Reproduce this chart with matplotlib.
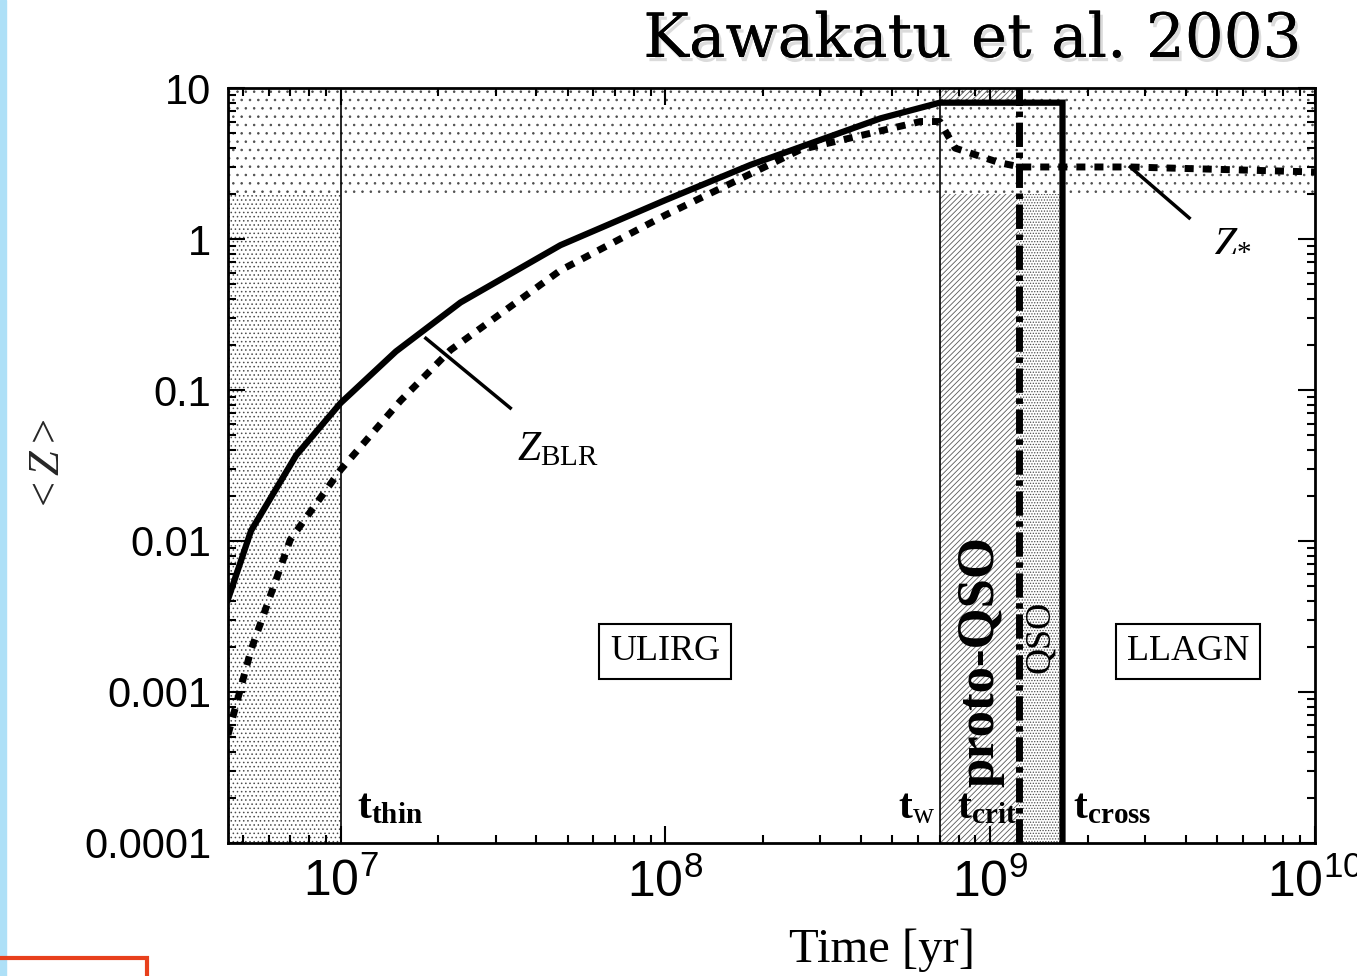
import matplotlib
matplotlib.use('Agg')
import matplotlib.pyplot as plt
import matplotlib.patheffects as pe
from matplotlib.patches import Rectangle
from matplotlib.ticker import FixedLocator, FuncFormatter, LogLocator
import numpy as np

plt.rcParams['font.family'] = ['Liberation Serif', 'DejaVu Serif']
plt.rcParams['mathtext.fontset'] = 'custom'
plt.rcParams['mathtext.rm'] = 'Liberation Serif'
plt.rcParams['mathtext.it'] = 'Liberation Serif:italic'
plt.rcParams['mathtext.bf'] = 'Liberation Serif:bold'
plt.rcParams['mathtext.sf'] = 'Liberation Sans'
plt.rcParams['hatch.linewidth'] = 0.6

# characteristic times [yr]
t_thin = 1.0e7
t_w = 7.0e8
t_crit = 1.23e9
t_cross = 1.67e9

# Z_BLR (solid)
t_blr = [4.5e6, 5.3e6, 7.3e6, 1.0e7, 1.48e7, 2.34e7, 4.75e7, 1.0e8, 1.83e8, 4.6e8, 7.0e8, t_cross, t_cross]
z_blr = [0.0041, 0.0117, 0.037, 0.082, 0.18, 0.38, 0.91, 1.81, 3.1, 6.3, 8.0, 8.0, 1e-4]

# Z_* (dotted)
t_star = [4.5e6, 5.3e6, 7.0e6, 1.0e7, 1.53e7, 2.18e7, 4.75e7, 1.0e8, 2.6e8, 6.1e8, 7.0e8, 7.8e8, 1.07e9, 1.24e9, 2.7e9, 1.0e10]
z_star = [5.2e-4, 0.0019, 0.0102, 0.0296, 0.085, 0.184, 0.62, 1.44, 3.9, 6.0, 6.0, 4.0, 3.2, 3.0, 3.0, 2.78]

x_min, x_max = 4.5e6, 1.0e10
y_min, y_max = 1e-4, 10.0
z_band = 2.0

fig = plt.figure(figsize=(13.57, 9.76), dpi=100)
ax = fig.add_axes([0.168, 0.1363, 0.801, 0.7735])
ax.set_xscale('log')
ax.set_yscale('log')
ax.set_xlim(x_min, x_max)
ax.set_ylim(y_min, y_max)

# shaded regions
ax.fill_between([x_min, x_max], z_band, y_max, facecolor='none', edgecolor='0.3', hatch='..', lw=0, zorder=1)
ax.fill_between([x_min, t_thin], y_min, z_band, facecolor='none', edgecolor='0.3', hatch='....', lw=0, zorder=1)
ax.fill_between([t_w, t_crit], y_min, z_band, facecolor='none', edgecolor='0.35', hatch='//////', lw=0, zorder=1)
ax.fill_between([t_w, t_crit], 8.3, y_max, facecolor='none', edgecolor='0.35', hatch='//////', lw=0, zorder=1)
ax.fill_between([t_crit, t_cross], y_min, z_band, facecolor='none', edgecolor='0.3', hatch='......', lw=0, zorder=1)

# vertical markers
ax.axvline(t_thin, color='black', lw=1.2, zorder=2)
ax.axvline(t_w, color='black', lw=1.2, zorder=2)
ax.axvline(t_crit, color='black', lw=5, linestyle=(0, (3.5, 0.8, 0.8, 0.8)), zorder=3)

ax.plot(t_blr, z_blr, color='black', lw=4.5, solid_joinstyle='miter', zorder=4)
ax.plot(t_star, z_star, color='black', lw=5, linestyle=(0, (1.3, 1.3)), dash_capstyle='butt', zorder=4)

# curve labels
ax.plot([1.83e7, 3.33e7], [0.22, 0.076], color='black', lw=2.5, zorder=4)
ax.text(4.68e7, 0.040, r'$Z_{\rm BLR}$', fontsize=30, ha='center', va='center')
ax.plot([2.7e9, 4.1e9], [3.0, 1.38], color='black', lw=2.5, zorder=4)
ax.text(5.56e9, 0.97, r'$Z_{*}$', fontsize=30, ha='center', va='center')

box = dict(boxstyle='square,pad=0.3', facecolor='white', edgecolor='black', lw=1.5)
ax.text(1.0e8, 1.86e-3, 'ULIRG', fontsize=26, ha='center', va='center', bbox=box, zorder=5)
ax.text(4.06e9, 1.86e-3, 'LLAGN', fontsize=26, ha='center', va='center', bbox=box, zorder=5)

ax.text(9.3e8, 1.6e-3, 'proto-QSO', fontsize=38, fontweight='bold', rotation=90,
        ha='center', va='center', zorder=5)
ax.text(1.43e9, 2.3e-3, 'QSO', fontsize=26, rotation=90, ha='center', va='center', zorder=5)

ax.text(1.12e7, 1.7e-4, r'$\mathbf{t}_{\mathbf{thin}}$', fontsize=30, ha='left', va='center', zorder=5)
ax.text(5.2e8, 1.7e-4, r'$\mathbf{t}_{\mathrm{w}}$', fontsize=30, ha='left', va='center', zorder=5)
ax.text(7.9e8, 1.7e-4, r'$\mathbf{t}_{\mathbf{crit}}$', fontsize=30, ha='left', va='center', zorder=5)
ax.text(1.8e9, 1.7e-4, r'$\mathbf{t}_{\mathbf{cross}}$', fontsize=30, ha='left', va='center', zorder=5)

# axes styling
ax.xaxis.set_major_locator(FixedLocator([1e7, 1e8, 1e9, 1e10]))
ax.xaxis.set_minor_locator(LogLocator(base=10, subs=np.arange(2, 10)))
ax.xaxis.set_major_formatter(FuncFormatter(lambda v, p: r'$\mathsf{10^{%d}}$' % round(np.log10(v))))
ax.xaxis.set_minor_formatter(FuncFormatter(lambda v, p: ''))
ax.yaxis.set_major_locator(FixedLocator([1e-4, 1e-3, 1e-2, 1e-1, 1, 10]))
ax.yaxis.set_minor_locator(LogLocator(base=10, subs=np.arange(2, 10)))
ax.yaxis.set_major_formatter(FuncFormatter(lambda v, p: {1e-4: '0.0001', 1e-3: '0.001', 1e-2: '0.01',
                                                         1e-1: '0.1', 1: '1', 10: '10'}.get(v, '')))
ax.yaxis.set_minor_formatter(FuncFormatter(lambda v, p: ''))
ax.tick_params(which='both', direction='in', top=True, right=True, width=1.5)
ax.tick_params(which='major', length=12)
ax.tick_params(which='minor', length=6)
ax.tick_params(axis='x', which='major', pad=12, labelsize=36)
ax.tick_params(axis='y', which='major', pad=12, labelsize=30)
for lab in ax.get_yticklabels():
    lab.set_family('Liberation Sans')
for s in ax.spines.values():
    s.set_linewidth(2)

ax.set_ylabel(r'$<Z>$', fontsize=32, labelpad=12, color='0.15')
fig.text(882 / 1357, 1 - 950 / 976, 'Time [yr]', fontsize=35, ha='center', va='center')

fig.text(972 / 1357, 1 - 40 / 976, 'Kawakatu et al. 2003', fontsize=44, family='DejaVu Serif',
         ha='center', va='center',
         path_effects=[pe.withSimplePatchShadow(offset=(2, -3), shadow_rgbFace='0.6', alpha=0.35), pe.Normal()])

# slide decorations
fig.patches.append(Rectangle((0, 0), 6 / 1357, 1, transform=fig.transFigure, color='#aee0f7', zorder=0))
fig.patches.append(Rectangle((-0.01, -0.05), 147 / 1357 + 0.01, 18 / 976 + 0.05, transform=fig.transFigure,
                             facecolor='none', edgecolor='#e8401c', lw=3))

fig.savefig('out.png', dpi=100)
